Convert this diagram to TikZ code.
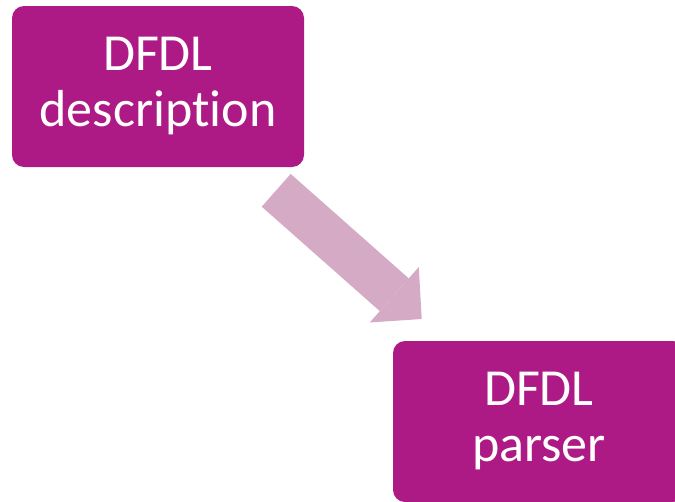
\documentclass[tikz,border=0pt]{standalone}
\usepackage{fontspec}
\setmainfont[Ligatures=NoCommon]{Carlito}
\usepackage{tikz}
\usetikzlibrary{arrows.meta}
\definecolor{boxpurple}{HTML}{AD1A85}
\definecolor{arrowpink}{HTML}{D4AAC4}

\begin{document}
\begin{tikzpicture}
			[x=1pt,y=-1pt,every node/.style={rectangle,rounded corners=12pt,fill=boxpurple,text=white,align=center,minimum width=292pt,minimum height=161pt,font=\fontsize{52}{56}\selectfont}, edge/.style={-{Triangle[width=74pt,length=36.6pt,line width=0pt]},line width=43.7pt,draw=arrowpink}]
			\clip (0,0) rectangle (675,501);
			\useasboundingbox (0,0) rectangle (675,501);
			\node (desc) at (158,86.5) {DFDL\\description};
			\node (parser) at (539,421.5) {DFDL\\parser};
			
			\coordinate (tail) at (276.2,190.3);
			\coordinate (tip) at (421.7,319);
			\draw[edge] (tail) -- (tip);
			\end{tikzpicture}
\end{document}
